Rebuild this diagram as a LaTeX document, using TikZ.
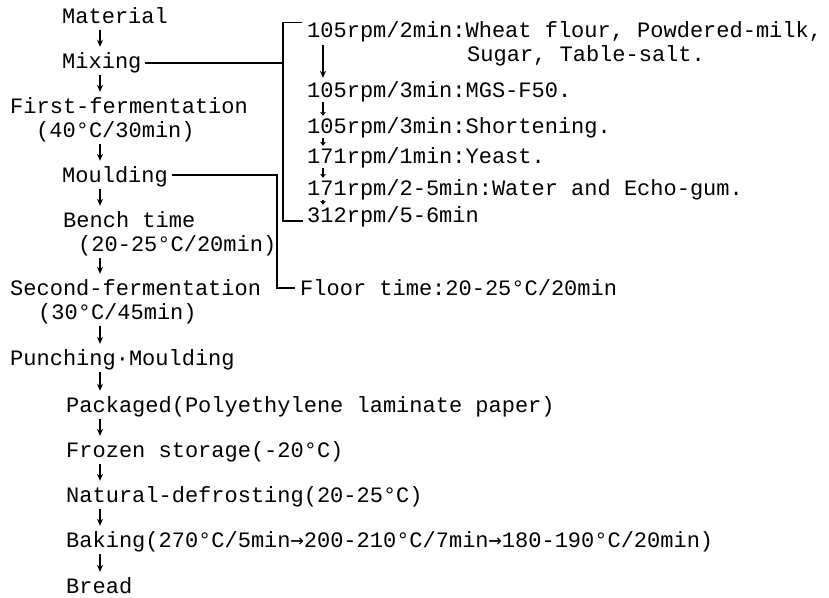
\documentclass[tikz,border=0pt]{standalone}
\usepackage{fontspec}
\setmainfont{Liberation Mono}
\newfontfamily\arrowfont{DejaVu Sans Mono}
\newcommand{\thento}{{\arrowfont→}}
\usetikzlibrary{arrows.meta}
\begin{document}
\begin{tikzpicture}[x=1pt,y=-1pt,
  stage/.style={anchor=base west,inner sep=0pt,text height=14pt,text depth=4pt,
    font=\fontsize{22}{24}\selectfont},
  flow/.style={-{Stealth[length=7pt,width=6pt]},line width=1.3pt,
    shorten <=3pt,shorten >=7pt},
  tiny/.style={-{Stealth[length=4pt,width=6pt]},line width=1.2pt,
    shorten <=1pt,shorten >=3pt},
  link/.style={line width=1.2pt}]
\useasboundingbox (0,0) rectangle (829,597);

% main line of steps
\node[stage] (mat) at (62,23) {Material};
\node[stage] (mix) at (62,68) {Mixing};
\node[stage] (fer1) at (10,113) {First-fermentation};
\node[stage] (fer1t) at (36,137) {(40°C/30min)};
\node[stage] (mould) at (62,182) {Moulding};
\node[stage] (bench) at (63,227) {Bench time};
\node[stage] (bencht) at (78,251) {(20-25°C/20min)};
\node[stage] (fer2) at (10,295) {Second-fermentation};
\node[stage] (fer2t) at (38,319) {(30°C/45min)};
\node[stage] (punch) at (10,365) {Punching·Moulding};
\node[stage] (pack) at (66,412) {Packaged(Polyethylene laminate paper)};
\node[stage] (froz) at (66,457) {Frozen storage(-20°C)};
\node[stage] (defr) at (66,502) {Natural-defrosting(20-25°C)};
\node[stage] (bake) at (66,547) {Baking(270°C/5min\thento200-210°C/7min\thento180-190°C/20min)};
\node[stage] (bread) at (66,593) {Bread};

% mixing steps
\node[stage] (r1) at (307,37) {105rpm/2min:Wheat flour, Powdered-milk,};
\node[stage] (r1b) at (467,61) {Sugar, Table-salt.};
\node[stage] (r2) at (307,97) {105rpm/3min:MGS-F50.};
\node[stage] (r3) at (307,133) {105rpm/3min:Shortening.};
\node[stage] (r4) at (307,163) {171rpm/1min:Yeast.};
\node[stage] (r5) at (307,195) {171rpm/2-5min:Water and Echo-gum.};
\node[stage] (r6) at (307,222) {312rpm/5-6min};
\node[stage] (floor) at (300,295) {Floor time:20-25°C/20min};

\coordinate (ax) at (100,0);
\coordinate (rx) at (323,0);
\coordinate (brk) at (283,0);
\coordinate (flr) at (277,0);

\foreach \a/\b in {mat/mix,mix/fer1,fer1t/mould,mould/bench,bencht/fer2,
  fer2t/punch,punch/pack,pack/froz,froz/defr,defr/bake,bake/bread}
  \draw[flow] (\a.south -| ax) -- (\b.north -| ax);

\draw[flow,shorten <=4pt,shorten >=5pt] (r1.south -| rx) -- (r2.north -| rx);
\foreach \a/\b in {r2/r3,r3/r4,r4/r5,r5/r6}
  \draw[tiny] (\a.south -| rx) -- (\b.north -| rx);

% brackets
\draw[link] ([xshift=-5pt]r1.north west) -| ([yshift=-4pt]brk |- r6.west)
  -- ([xshift=-4pt,yshift=-4pt]r6.west);
\draw[link] ([xshift=3pt]mix.east) -- (mix.east -| brk);
\draw[link] ([xshift=4pt,yshift=2pt]mould.east) -| ([yshift=2pt]flr |- floor.west)
  -- ([xshift=-5pt,yshift=2pt]floor.west);
\end{tikzpicture}
\end{document}
